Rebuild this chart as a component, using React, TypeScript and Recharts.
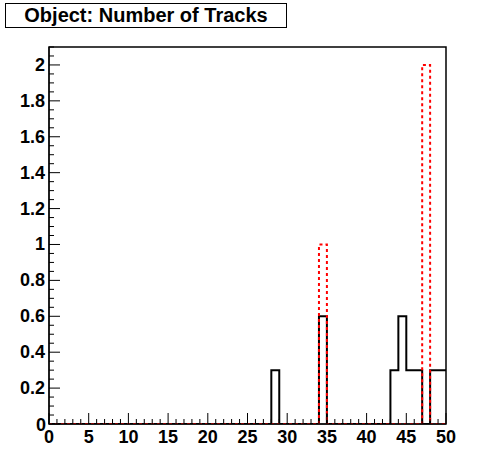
import React from 'react';
import { ComposedChart, Line, XAxis, YAxis, ReferenceArea } from 'recharts';

// counts per bin, bins 0..49 (width 1)
const blackCounts = [
  0, 0, 0, 0, 0, 0, 0, 0, 0, 0,
  0, 0, 0, 0, 0, 0, 0, 0, 0, 0,
  0, 0, 0, 0, 0, 0, 0, 0, 0.3, 0,
  0, 0, 0, 0, 0.6, 0, 0, 0, 0, 0,
  0, 0, 0, 0.3, 0.6, 0.3, 0.3, 0, 0.3, 0.3,
];
const redCounts = [
  0, 0, 0, 0, 0, 0, 0, 0, 0, 0,
  0, 0, 0, 0, 0, 0, 0, 0, 0, 0,
  0, 0, 0, 0, 0, 0, 0, 0, 0, 0,
  0, 0, 0, 0, 1, 0, 0, 0, 0, 0,
  0, 0, 0, 0, 0, 0, 0, 2, 0, 0,
];
const xMajorTicks = [0, 5, 10, 15, 20, 25, 30, 35, 40, 45, 50];
const yMajorTicks = [0, 0.2, 0.4, 0.6, 0.8, 1, 1.2, 1.4, 1.6, 1.8, 2];

const title = 'Object: Number of Tracks';
const FONT = '"Liberation Sans", Arial, Helvetica, sans-serif';

// one row per bin edge; the last edge repeats the last bin so the step reaches 50
const rows = Array.from({ length: blackCounts.length + 1 }, (_, i) => ({
  x: i,
  black: blackCounts[Math.min(i, blackCounts.length - 1)],
  red: redCounts[Math.min(i, redCounts.length - 1)],
}));

const xTicks = Array.from({ length: 51 }, (_, i) => i);
const yTicks = Array.from({ length: 43 }, (_, i) => Math.round(i * 5) / 100);

const isMajorY = (v: number) => yMajorTicks.some((t) => Math.abs(t - v) < 1e-6);

const XTick = (props: any) => {
  const { x, y, payload } = props;
  const major = xMajorTicks.includes(payload.value);
  return (
    <g>
      <line x1={x} x2={x} y1={y} y2={y - (major ? 11 : 5)} stroke="#000" strokeWidth={1} />
      {major && (
        <text x={x} y={y + 19} textAnchor="middle" fontFamily={FONT} fontWeight="bold" fontSize={18} fill="#000">
          {payload.value}
        </text>
      )}
    </g>
  );
};

const YTick = (props: any) => {
  const { x, y, payload } = props;
  const major = isMajorY(payload.value);
  const v = payload.value;
  return (
    <g>
      <line x1={x} x2={x + (major ? 11 : 5)} y1={y} y2={y} stroke="#000" strokeWidth={1} />
      {major && (
        <text
          x={x - (v === 0 ? 3 : 4)}
          y={y + (v === 0 ? 7 : 6)}
          textAnchor="end"
          fontFamily={FONT}
          fontWeight="bold"
          fontSize={18}
          fill="#000"
        >
          {String(v)}
        </text>
      )}
    </g>
  );
};

export default function App() {
  return (
    <div style={{ position: 'absolute', left: 0, top: 0, width: 496, height: 472, background: '#fff' }}>
      <ComposedChart
        width={496}
        height={472}
        data={rows}
        margin={{ top: 47, right: 50, bottom: 0, left: 0 }}
      >
        <XAxis
          dataKey="x"
          type="number"
          domain={[0, 50]}
          ticks={xTicks}
          interval={0}
          tickSize={0}
          tickMargin={0}
          height={48}
          tick={<XTick />}
          axisLine={{ stroke: '#000' }}
          allowDataOverflow
        />
        <YAxis
          type="number"
          domain={[0, 2.1]}
          ticks={yTicks}
          interval={0}
          tickSize={0}
          tickMargin={0}
          width={49}
          tick={<YTick />}
          axisLine={{ stroke: '#000' }}
          allowDataOverflow
        />
        <ReferenceArea x1={0} x2={50} y1={0} y2={2.1} fill="none" stroke="#000" strokeWidth={1.5} ifOverflow="visible" />
        <Line
          type="stepAfter"
          dataKey="black"
          stroke="#000"
          strokeWidth={2}
          dot={false}
          isAnimationActive={false}
        />
        <Line
          type="stepAfter"
          dataKey="red"
          stroke="#ff0000"
          strokeWidth={2}
          strokeDasharray="3 3"
          dot={false}
          isAnimationActive={false}
        />
      </ComposedChart>
      <div
        style={{
          position: 'absolute',
          left: 5,
          top: 3,
          width: 280,
          height: 23,
          border: '1px solid #000',
          background: '#fff',
          fontFamily: FONT,
          fontWeight: 'bold',
          fontSize: 20,
          lineHeight: '23px',
          textAlign: 'center',
          color: '#000',
        }}
      >
        {title}
      </div>
    </div>
  );
}
